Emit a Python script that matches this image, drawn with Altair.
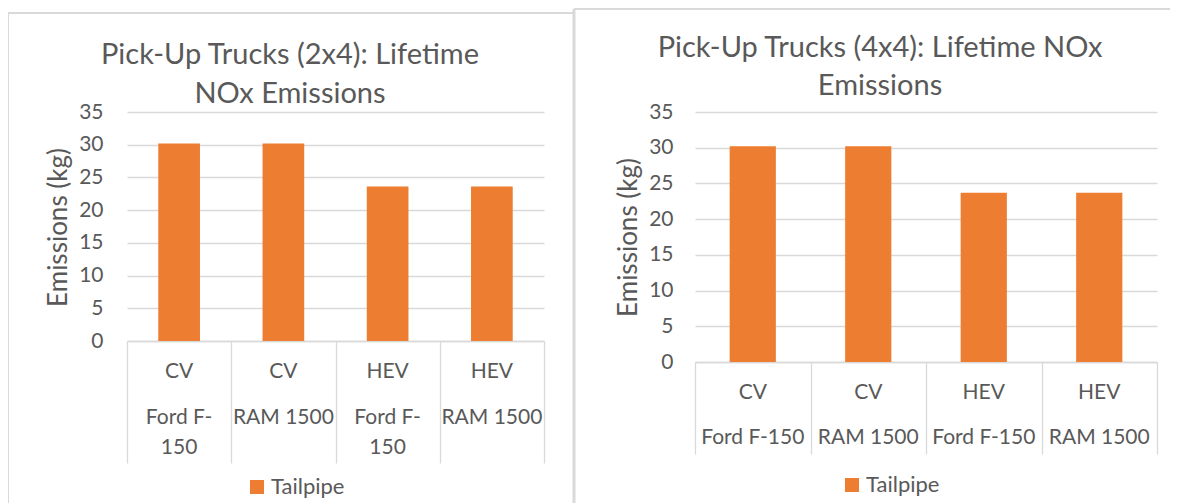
import altair as alt
import pandas as pd

# ---------------- data ----------------
types = ["CV", "CV", "HEV", "HEV"]
models = ["Ford F-150", "RAM 1500", "Ford F-150", "RAM 1500"]
models_2x4_line1 = ["Ford F-", "RAM 1500", "Ford F-", "RAM 1500"]
models_2x4_line2 = ["150", "", "150", ""]
tailpipe_2x4 = [30.2, 30.2, 23.6, 23.6]
tailpipe_4x4 = [30.2, 30.2, 23.7, 23.7]
series_name = "Tailpipe"
y_ticks = [0, 5, 10, 15, 20, 25, 30, 35]
title_2x4 = ["Pick-Up Trucks (2x4): Lifetime", "NOx Emissions"]
title_4x4 = ["Pick-Up Trucks (4x4): Lifetime NOx", "Emissions"]
y_title = "Emissions (kg)"

# ---------------- style ----------------
FONT = "Lato"
TXT = "#595959"
GRID = "#D9D9D9"
ORANGE = "#ED7D31"

keys = [f"{t}|{m}" for t, m in zip(types, models)]


def panel(values, line1, line2, titles, xr, yr, yoff, xoff, tick_size,
          dys, legend_xy, title_xy, title_lh, ytitle_y):
    df = pd.DataFrame({
        "key": keys,
        "type": types,
        "m1": line1,
        "m2": line2,
        "value": values,
        "series": [series_name] * len(keys),
    })
    xs = alt.Scale(domain=keys, range=xr, paddingInner=0, paddingOuter=0)
    ys = alt.Scale(domain=[0, 35], range=yr, nice=False, zero=True)
    xaxis = alt.Axis(
        orient="bottom", offset=xoff, labels=False, title=None,
        domain=True, domainColor=GRID, domainWidth=1.3,
        ticks=True, tickBand="extent", tickSize=tick_size,
        tickColor=GRID, tickWidth=1.3, grid=False)
    yaxis = alt.Axis(
        orient="left", offset=yoff, values=y_ticks,
        labelFont=FONT, labelFontSize=21, labelColor=TXT,
        labelPadding=0, ticks=False, tickSize=0, domain=False,
        grid=True, gridColor=GRID, gridWidth=1.3,
        title=y_title, titleFont=FONT, titleFontSize=26,
        titleFontWeight="normal", titleColor=TXT,
        titleX=-45, titleY=ytitle_y, titleAngle=270,
        titleAlign="center", titleBaseline="middle")

    bars = alt.Chart(df).mark_bar(width=alt.RelativeBandSize(0.4)).encode(
        x=alt.X("key:N", scale=xs, axis=xaxis),
        y=alt.Y("value:Q", scale=ys, axis=yaxis),
        color=alt.Color("series:N",
                        scale=alt.Scale(domain=[series_name], range=[ORANGE]),
                        legend=alt.Legend(
                            orient="none", legendX=legend_xy[0],
                            legendY=legend_xy[1], title=None,
                            symbolType="square", symbolSize=196,
                            symbolStrokeWidth=0, symbolOpacity=1,
                            labelFont=FONT, labelFontSize=22,
                            labelColor=TXT, labelOffset=3, padding=0)),
    )

    layers = [bars]
    for field, dy in zip(["type", "m1", "m2"], dys):
        if dy is None:
            continue
        layers.append(
            alt.Chart(df).mark_text(font=FONT, fontSize=21, color=TXT,
                                    baseline="middle", align="center",
                                    dy=dy).encode(
                x=alt.X("key:N", scale=xs, axis=xaxis),
                y=alt.Y(datum=0, type="quantitative", scale=ys, axis=yaxis),
                text=f"{field}:N",
            )
        )
    layers.append(
        alt.Chart(alt.Data(values=[{}])).mark_text(
            font=FONT, fontSize=29, color=TXT, align="center",
            baseline="middle", lineHeight=title_lh).encode(
            x=alt.value(title_xy[0]), y=alt.value(title_xy[1]),
            text=alt.value(titles))
    )
    return alt.layer(*layers)


left = panel(tailpipe_2x4, models_2x4_line1, models_2x4_line2, title_2x4,
             xr=[111, 528], yr=[325, 96], yoff=-87, xoff=-146, tick_size=122,
             dys=[31, 77, 107], legend_xy=[230, 460], title_xy=[274, 39],
             title_lh=39, ytitle_y=211)
right = panel(tailpipe_4x4, models, [""] * 4, title_4x4,
              xr=[679, 1141], yr=[346, 96], yoff=-657, xoff=-125, tick_size=92,
              dys=[31, 76, None], legend_xy=[825, 458], title_xy=[864, 32],
              title_lh=38, ytitle_y=221)

frame_data = alt.Data(values=[{}])
frames = [
    alt.Chart(frame_data).mark_rule(color=GRID, strokeWidth=2).encode(
        x=alt.value(-8), y=alt.value(-3), y2=alt.value(487)),
    alt.Chart(frame_data).mark_rule(color=GRID, strokeWidth=2).encode(
        x=alt.value(-8), x2=alt.value(558), y=alt.value(-3)),
    alt.Chart(frame_data).mark_rule(color=GRID, strokeWidth=3).encode(
        x=alt.value(558), y=alt.value(-7), y2=alt.value(487)),
    alt.Chart(frame_data).mark_rule(color=GRID, strokeWidth=2).encode(
        x=alt.value(558), x2=alt.value(1160), y=alt.value(-7)),
]

chart = alt.layer(left, right, *frames).resolve_scale(
    x="independent", y="independent", color="independent"
).properties(
    width=1146, height=471,
    autosize=alt.AutoSizeParams(type="none"),
    padding={"left": 8, "top": 8, "right": 8, "bottom": 16},
).configure_view(stroke=None)

chart.save("out.html", embed_options={"renderer": "svg", "actions": False})
